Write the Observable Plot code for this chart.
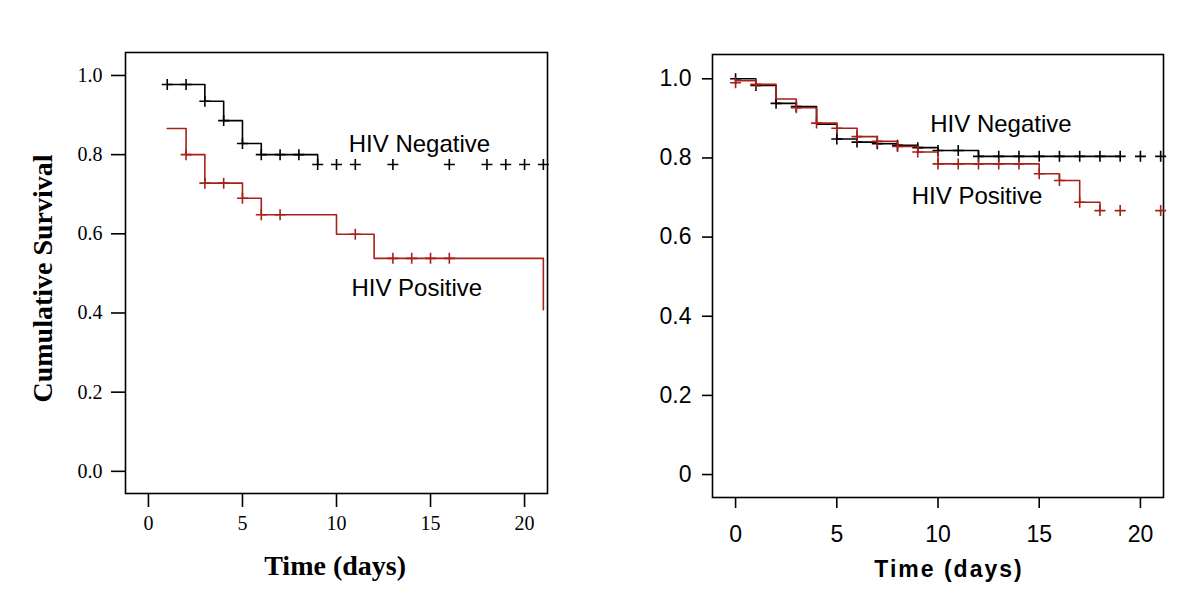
<!DOCTYPE html>
<html><head><meta charset="utf-8">
<script src="https://cdn.jsdelivr.net/npm/d3@7"></script>
<script src="https://cdn.jsdelivr.net/npm/@observablehq/plot@0.6"></script>
<style>
body{margin:0;background:#fff;}
#wrap{position:relative;width:1200px;height:610px;overflow:hidden;background:#fff;}
#left,#right{position:absolute;top:0;}
#left{left:0;} #right{left:600px;}
</style></head><body><div id="wrap"><div id="left"></div><div id="right"></div></div>
<script>
// ---------- Left panel data ----------
const leftNegTime = [1, 3, 4, 5, 6, 9];
const leftNegSurv = [0.977, 0.935, 0.886, 0.828, 0.800, 0.775];
const leftNegCensorTime = [1, 2, 3, 4, 5, 6, 7, 8, 9, 10, 11, 13, 16, 18, 19, 20, 21];
const leftNegCensorSurv = [0.977, 0.977, 0.935, 0.886, 0.828, 0.800, 0.800, 0.800, 0.775, 0.775, 0.775, 0.775, 0.775, 0.775, 0.775, 0.775, 0.775];

const leftPosTime = [1, 2, 3, 5, 6, 10, 12, 21];
const leftPosSurv = [0.866, 0.800, 0.728, 0.690, 0.648, 0.599, 0.538, 0.408];
const leftPosCensorTime = [2, 3, 4, 5, 6, 7, 11, 13, 14, 15, 16];
const leftPosCensorSurv = [0.800, 0.728, 0.728, 0.690, 0.648, 0.648, 0.599, 0.538, 0.538, 0.538, 0.538];

const leftLabelText = ["HIV Negative", "HIV Positive"];
const leftLabelT = [14.41, 14.27];
const leftLabelS = [0.826, 0.463];

// ---------- Right panel data ----------
const rightNegTime = [0, 1, 2, 3, 4, 5, 6, 7, 8, 9, 10, 12, 19];
const rightNegSurv = [1.000, 0.983, 0.938, 0.930, 0.885, 0.848, 0.840, 0.836, 0.832, 0.826, 0.819, 0.804, 0.804];
const rightNegCensorTime = [0, 1, 2, 3, 5, 6, 7, 8, 9, 10, 11, 12, 13, 14, 15, 16, 17, 18, 19, 20, 21];
const rightNegCensorSurv = [1.000, 0.983, 0.938, 0.930, 0.848, 0.840, 0.836, 0.832, 0.826, 0.819, 0.819, 0.804, 0.804, 0.804, 0.804, 0.804, 0.804, 0.804, 0.804, 0.804, 0.804];

const rightPosTime = [0, 1, 2, 3, 4, 5, 6, 7, 8, 9, 10, 15, 16, 17, 18];
const rightPosSurv = [0.995, 0.986, 0.949, 0.927, 0.888, 0.875, 0.854, 0.842, 0.829, 0.815, 0.785, 0.760, 0.743, 0.688, 0.667];
const rightPosCensorTime = [0, 1, 3, 4, 5, 6, 7, 8, 9, 10, 11, 12, 13, 14, 15, 16, 17, 18, 19, 21];
const rightPosCensorSurv = [0.990, 0.986, 0.927, 0.888, 0.875, 0.854, 0.842, 0.829, 0.815, 0.785, 0.785, 0.785, 0.785, 0.785, 0.760, 0.743, 0.688, 0.667, 0.667, 0.667];

const rightLabelText = ["HIV Negative", "HIV Positive"];
const rightLabelT = [13.11, 11.93];
const rightLabelS = [0.8845, 0.7026];

// ---------- Ticks ----------
const xTicks = [0, 5, 10, 15, 20];
const yTicks = [0, 0.2, 0.4, 0.6, 0.8, 1.0];

// ---------- helpers ----------
const zip = (ts, ss) => ts.map((t, i) => ({t, s: ss[i]}));
const labels = (txt, ts, ss) => txt.map((l, i) => ({label: l, t: ts[i], s: ss[i]}));
const plusSymbol = {
  draw(ctx, size) {
    const r = Math.sqrt(size / Math.PI);
    ctx.moveTo(-r, 0); ctx.lineTo(r, 0);
    ctx.moveTo(0, -r); ctx.lineTo(0, r);
  }
};
const RED = "#a8201a";
const BLACK = "#000";

function curveMarks(line, cens, color) {
  return [
    Plot.line(line, {x: "t", y: "s", curve: "step-after", stroke: color, strokeWidth: 1.6}),
    Plot.dot(cens, {x: "t", y: "s", symbol: plusSymbol, r: 5.5, stroke: color, fill: "none", strokeWidth: 1.6})
  ];
}

// ---------- Left plot ----------
const serif = "Liberation Serif";
const leftPlot = Plot.plot({
  width: 600, height: 610,
  marginLeft: 125, marginRight: 53, marginTop: 52, marginBottom: 117,
  x: {domain: [-1.22, 21.22]},
  y: {domain: [-0.056, 1.058]},
  style: {background: "transparent", overflow: "visible", color: "#000"},
  marks: [
    Plot.frame({stroke: BLACK, strokeWidth: 1.6}),
    Plot.axisY({ticks: yTicks, tickSize: 14, tickPadding: 9, tickFormat: d => d.toFixed(1),
      fontFamily: serif, fontSize: 20, label: null, strokeWidth: 1.6}),
    Plot.axisX({ticks: xTicks, tickSize: 14, tickPadding: 8, tickFormat: d => String(d),
      fontFamily: serif, fontSize: 20, label: null, strokeWidth: 1.6}),
    ...curveMarks(zip(leftNegTime, leftNegSurv), zip(leftNegCensorTime, leftNegCensorSurv), BLACK),
    ...curveMarks(zip(leftPosTime, leftPosSurv), zip(leftPosCensorTime, leftPosCensorSurv), RED),
    Plot.text(labels(leftLabelText, leftLabelT, leftLabelS), {x: "t", y: "s", text: "label",
      fontFamily: "Liberation Sans", fontSize: 24, fill: "#000"}),
    Plot.text(["Time (days)"], {text: d => d, frameAnchor: "bottom", textAnchor: "middle", lineAnchor: "middle",
      dx: -1.4, dy: 73, fontFamily: serif, fontSize: 28, fontWeight: "bold", fill: "#000"}),
    Plot.text(["Cumulative Survival"], {text: d => d, frameAnchor: "left", textAnchor: "middle", lineAnchor: "middle",
      rotate: -90, dx: -82, dy: 5.5, fontFamily: serif, fontSize: 28, fontWeight: "bold", fill: "#000"})
  ]
});
document.getElementById("left").appendChild(leftPlot);

// ---------- Right plot ----------
const sans = "Liberation Sans";
const rightPlot = Plot.plot({
  width: 600, height: 610,
  marginLeft: 112, marginRight: 37, marginTop: 54, marginBottom: 113,
  x: {domain: [-1.14, 21.14]},
  y: {domain: [-0.058, 1.0614]},
  style: {background: "transparent", overflow: "visible", color: "#000"},
  marks: [
    Plot.frame({stroke: BLACK, strokeWidth: 1.6}),
    Plot.axisY({ticks: yTicks, tickSize: 10, tickPadding: 11, tickFormat: d => d === 0 ? "0" : d.toFixed(1),
      fontFamily: sans, fontSize: 23, label: null, strokeWidth: 1.6}),
    Plot.axisX({ticks: xTicks, tickSize: 11, tickPadding: 17, tickFormat: d => String(d),
      fontFamily: sans, fontSize: 23, label: null, strokeWidth: 1.6}),
    ...curveMarks(zip(rightNegTime, rightNegSurv), zip(rightNegCensorTime, rightNegCensorSurv), BLACK),
    ...curveMarks(zip(rightPosTime, rightPosSurv), zip(rightPosCensorTime, rightPosCensorSurv), RED),
    Plot.text(labels(rightLabelText, rightLabelT, rightLabelS), {x: "t", y: "s", text: "label",
      fontFamily: sans, fontSize: 24, fill: "#000"}),
    Plot.text(["Time (days)"], {text: d => d, frameAnchor: "bottom", textAnchor: "middle", lineAnchor: "middle",
      dx: 11, dy: 72, fontFamily: sans, fontSize: 23, fontWeight: "bold", fill: "#000"})
  ]
});
document.getElementById("right").appendChild(rightPlot);
d3.select(rightPlot).selectAll("text")
  .filter(function() { return this.textContent === "Time (days)"; })
  .attr("letter-spacing", "2px").style("letter-spacing", "2px");
</script></body></html>
